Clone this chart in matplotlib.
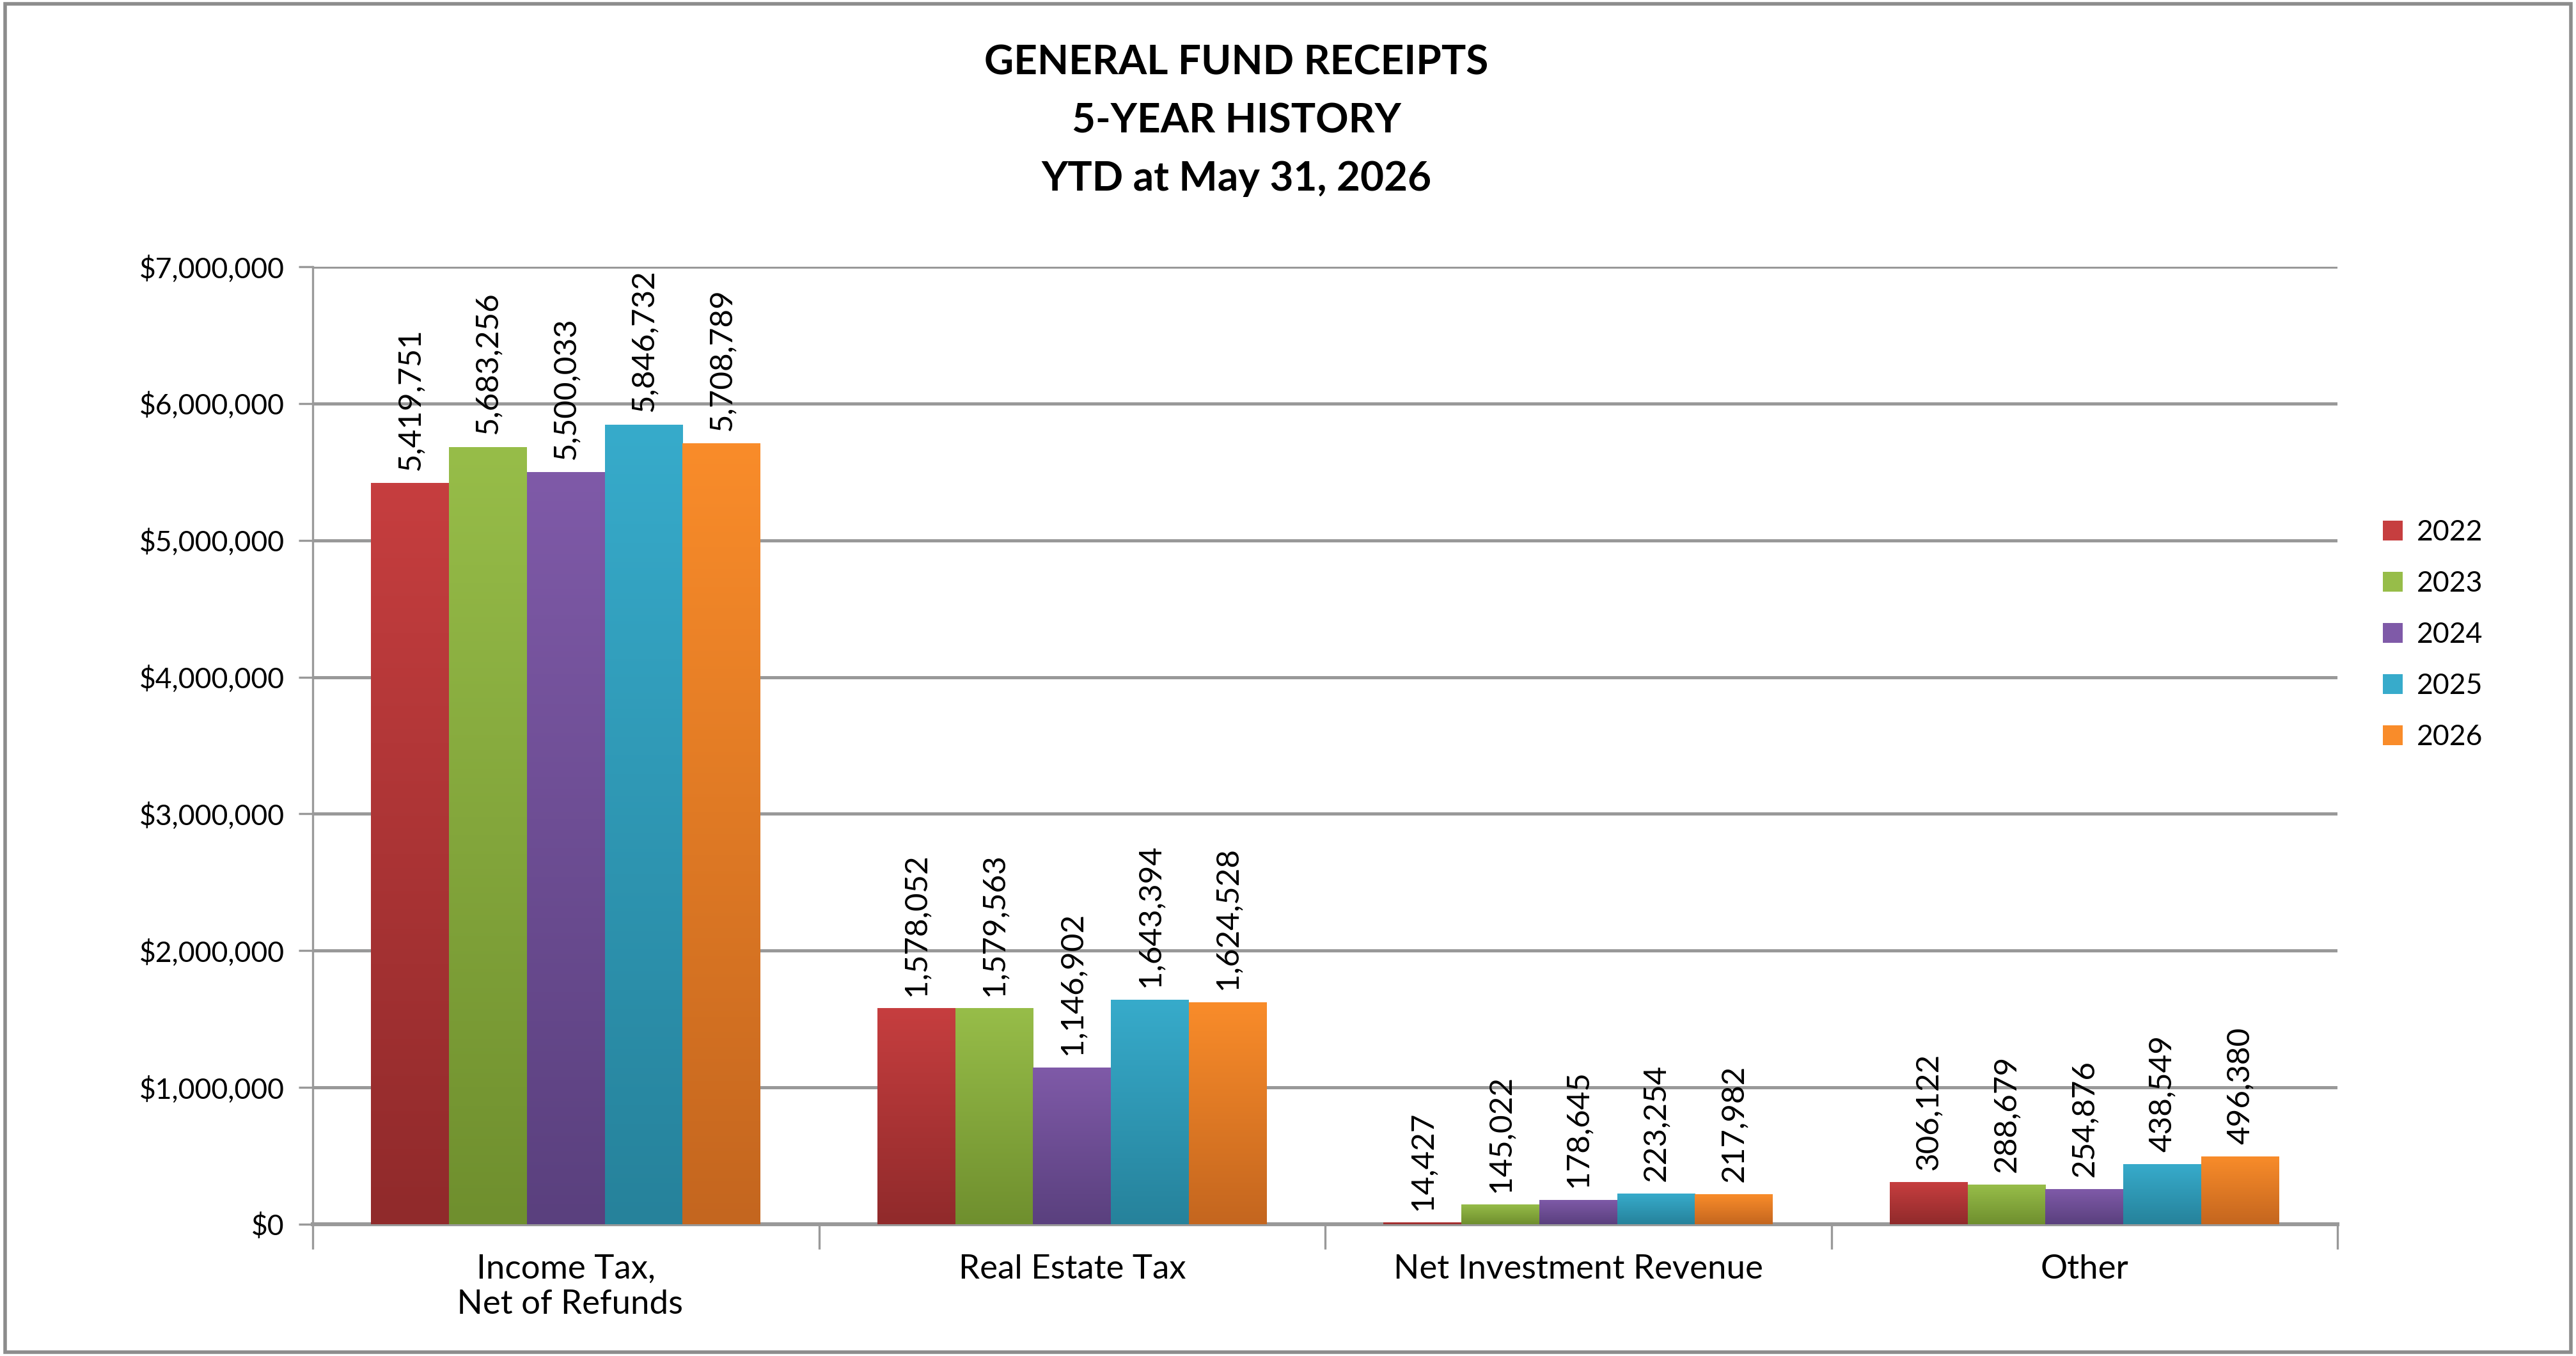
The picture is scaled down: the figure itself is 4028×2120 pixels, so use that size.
import numpy as np
from matplotlib import pyplot as plt
from matplotlib.patches import Rectangle
from matplotlib.ticker import FuncFormatter, MultipleLocator
from matplotlib.colors import LinearSegmentedColormap

plt.rcParams["font.family"] = ["Lato", "DejaVu Sans"]

categories = ["Income Tax,\n Net of Refunds", "Real Estate Tax", "Net Investment Revenue", "Other"]
years = ["2022", "2023", "2024", "2025", "2026"]
receipts = {
    "2022": [5419751, 1578052, 14427, 306122],
    "2023": [5683256, 1579563, 145022, 288679],
    "2024": [5500033, 1146902, 178645, 254876],
    "2025": [5846732, 1643394, 223254, 438549],
    "2026": [5708789, 1624528, 217982, 496380],
}

# top / bottom colours for the bar gradient
top_colors = ["#C63E3F", "#97BD49", "#7F5AA8", "#37ABCB", "#F98C2A"]
bottom_colors = ["#902A2B", "#6F8F2E", "#5A407E", "#26829B", "#C4661F"]

fig = plt.figure(figsize=(20.14, 10.6), dpi=200)
ax = fig.add_axes([0.1214, 0.0972, 0.786, 0.7061])

x = np.arange(len(categories))
w = 1 / 6.5

for i, yr in enumerate(years):
    vals = receipts[yr]
    bars = ax.bar(x + (i - 2) * w, vals, w, color=top_colors[i], label=yr, zorder=3,
                  edgecolor="none")
    cmap = LinearSegmentedColormap.from_list(yr, [bottom_colors[i], top_colors[i]])
    for b, v in zip(bars, vals):
        x0, y0 = b.get_x(), b.get_y()
        bw, bh = b.get_width(), b.get_height()
        grad = np.linspace(0, 1, 256).reshape(-1, 1)
        im = ax.imshow(grad, extent=(x0, x0 + bw, y0, y0 + bh), origin="lower",
                       aspect="auto", cmap=cmap, zorder=3.5)
        im.set_clip_path(b)
        ax.text(x0 + bw / 2, v + 90000, f"{v:,}", rotation=90, ha="center", va="bottom",
                fontsize=17.8, zorder=5)

ax.set_xlim(-0.5, 3.5)
ax.set_ylim(0, 7000000)
ax.yaxis.set_major_locator(MultipleLocator(1000000))
ax.yaxis.set_major_formatter(FuncFormatter(lambda v, p: f"${v:,.0f}"))
ax.grid(axis="y", color="#999999", linewidth=1.8, zorder=0)
ax.set_axisbelow(True)

ax.set_xticks(x)
ax.set_xticklabels(categories, fontsize=19)
ax.set_xticks(np.arange(-0.5, 4, 1), minor=True)
ax.tick_params(axis="x", which="major", length=0, pad=17)
ax.tick_params(axis="x", which="minor", length=14, width=1.2, color="#999999", direction="out")
ax.tick_params(axis="y", length=8, width=1.2, color="#999999", labelsize=16, pad=8)

for s in ["top", "right"]:
    ax.spines[s].set_visible(False)
ax.spines["left"].set_color("#999999")
ax.spines["left"].set_linewidth(1.2)
ax.spines["bottom"].set_color("#999999")
ax.spines["bottom"].set_linewidth(2.2)

fig.text(0.480, 0.911, "GENERAL FUND RECEIPTS\n5-YEAR HISTORY\nYTD at May 31, 2026",
         ha="center", va="center", fontsize=23, fontweight="bold", linespacing=1.72)

fig.legend(loc="upper left", bbox_to_anchor=(0.915, 0.636), frameon=False, fontsize=16,
           handlelength=0.7, handleheight=0.7, handletextpad=0.5, labelspacing=0.88)

fig.patches.append(Rectangle((0.002, 0.003), 0.996, 0.994, transform=fig.transFigure,
                             fill=False, edgecolor="#8C8C8C", linewidth=2))

plt.savefig("out.png", dpi=200)
